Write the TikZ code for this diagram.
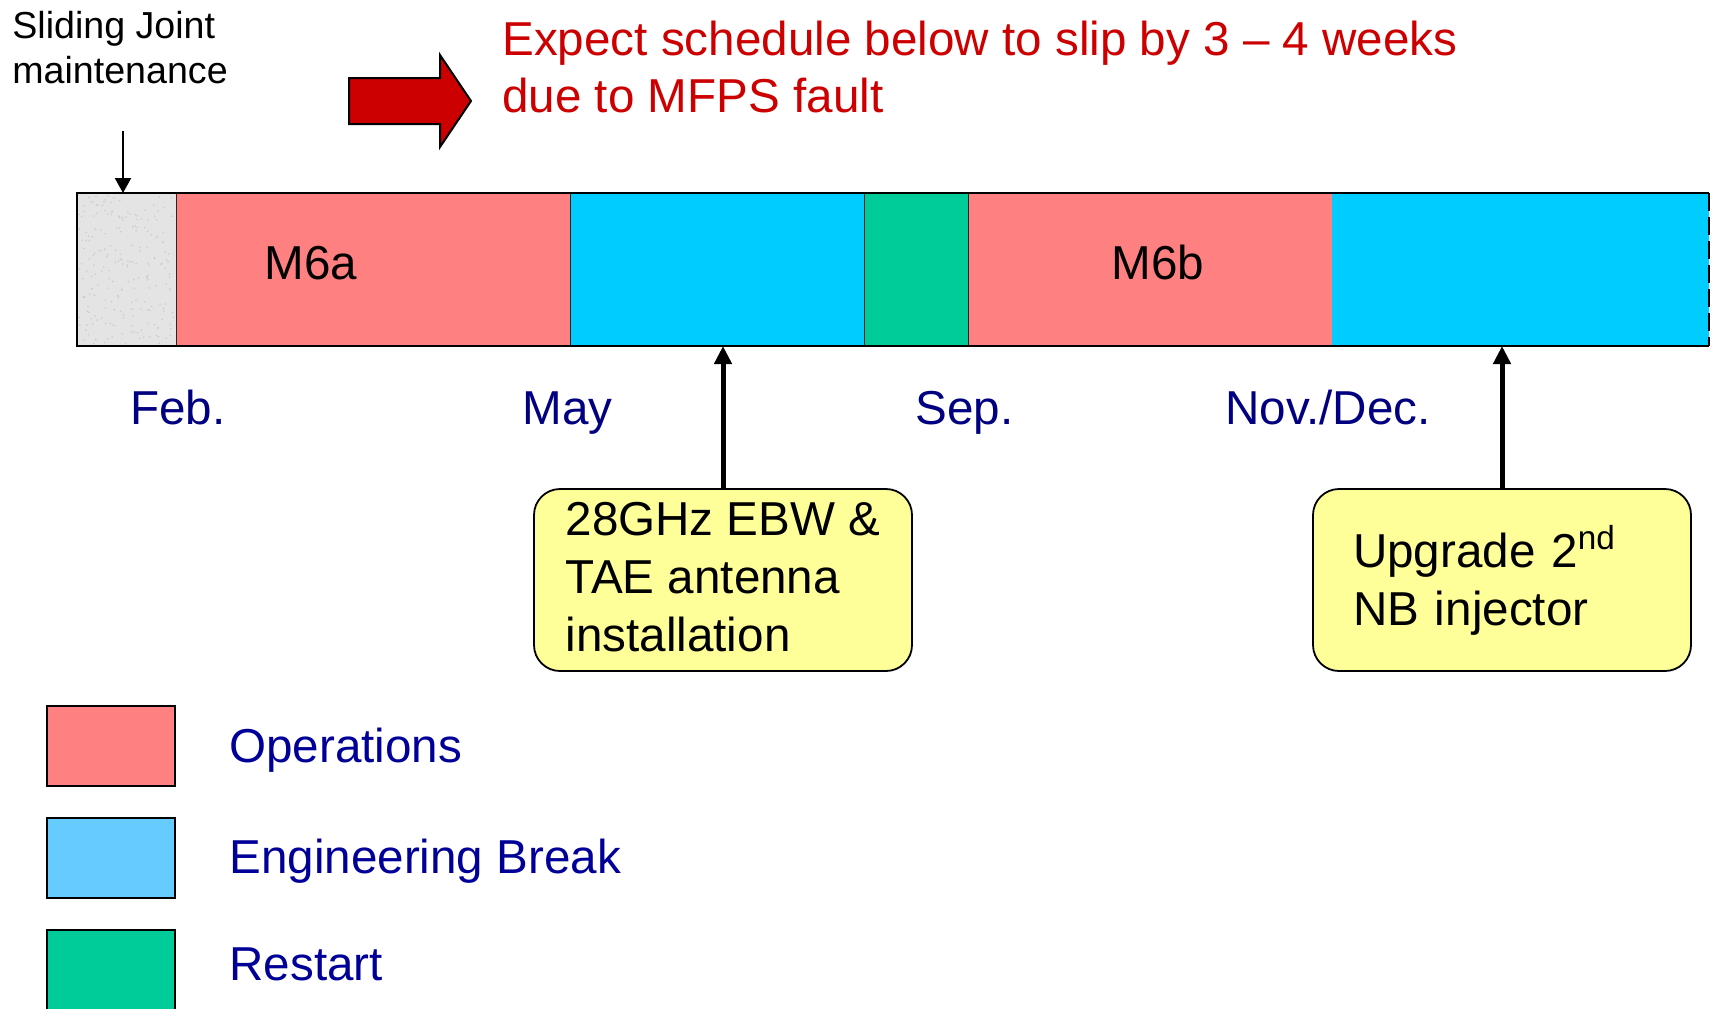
\documentclass[tikz,border=0pt]{standalone}
\usepackage{fontspec}
\setmainfont{Liberation Sans}
\usetikzlibrary{arrows.meta,positioning}
\definecolor{scops}{HTML}{FF8080}
\definecolor{sceng}{HTML}{00CCFF}
\definecolor{scengkey}{HTML}{66CCFF}
\definecolor{scrst}{HTML}{00CC99}
\definecolor{scnote}{HTML}{FFFF99}
\definecolor{scred}{HTML}{CC0000}
\definecolor{scmonth}{HTML}{000080}
\definecolor{sckey}{HTML}{000099}
\definecolor{scjoint}{HTML}{E4E4E4}
\tikzset{
  seg/.style={draw=black!85,line width=0.5pt,minimum height=76.5pt,inner sep=0pt,outer sep=0pt},
  note/.style={draw=black,line width=0.9pt,fill=scnote,rounded corners=13pt,minimum width=189pt,
              minimum height=91pt,align=left,font=\fontsize{23.8}{29}\selectfont},
  keybox/.style={draw=black,line width=1pt,minimum width=64pt,minimum height=40pt,inner sep=0pt,
              outer sep=0pt,anchor=north west},
  keytxt/.style={anchor=base west,inner sep=0pt,text=sckey,font=\fontsize{23.8}{29}\selectfont},
  month/.style={anchor=base west,inner sep=0pt,text=scmonth,font=\fontsize{23.8}{29}\selectfont},
  uparr/.style={-{Triangle[length=9pt,width=8.5pt]},line width=2.5pt},
}

\begin{document}
\begin{tikzpicture}[x=0.5pt,y=-0.5pt,
  big/.style={anchor=base west,inner sep=0pt,font=\fontsize{23.8}{29}\selectfont}]
  \useasboundingbox (0,0) rectangle (1711,1008);

  % ---- headline ----
  \node[anchor=north west,inner sep=0pt,align=left,font=\fontsize{18.8}{22.5}\selectfont]
    (sjtxt) at (12,11) {Sliding Joint\\maintenance};
  \draw[fill=scred,line width=1pt] (349,78) -- (440,78) -- (440,55) -- (471,101) -- (440,147)
    -- (440,124) -- (349,124) -- cycle;
  \node[anchor=north west,inner sep=0pt,align=left,text=scred,font=\fontsize{23.8}{28.5}\selectfont]
    (slip) at (502,21) {Expect schedule below to slip by 3 – 4 weeks\\due to MFPS fault};

  % ---- schedule bar ----
  \node[seg,fill=scjoint,anchor=north west,minimum width=49.5pt] (sj) at (77,193) {};
  \pgfmathsetseed{7}
  \foreach \k in {1,...,220}
    \fill[black!20] ({79+rnd*95},{195+rnd*149}) circle (0.45pt);
  \node[seg,fill=scops,right=0pt of sj,minimum width=197pt] (m6a) {};
  \node[seg,fill=sceng,right=0pt of m6a,minimum width=147pt] (eb1) {};
  \node[seg,fill=scrst,right=0pt of eb1,minimum width=52pt] (rs) {};
  \node[seg,fill=scops,right=0pt of rs,minimum width=182pt] (m6b) {};
  \node[seg,fill=sceng,draw=none,right=0pt of m6b,minimum width=188.5pt] (eb2) {};
  \draw[line width=1pt] (sj.north east) -- (sj.north west) -- (sj.south west) -- (sj.south east);
  \draw[line width=1pt] (sj.north west) -- (eb2.north east);
  \draw[line width=1pt] (sj.south west) -- (eb2.south east);
  \draw[line width=1.2pt,dash pattern=on 9pt off 3pt] (eb2.north east) -- (eb2.south east);
  \node[big] (m6alab) at (264,279) {M6a};
  \node[big] (m6blab) at (1111,279) {M6b};

  \coordinate (sjtop) at (123,131);
  \draw[-{Triangle[length=7.5pt,width=8pt]},line width=1pt] (sjtop) -- (sjtop |- sj.north);

  % ---- months ----
  \node[month] (feb) at (130,424) {Feb.};
  \node[month] (may) at (522,424) {May};
  \node[month] (sep) at (915,424) {Sep.};
  \node[month] (nov) at (1225,424) {Nov./Dec.};

  % ---- notes ----
  \node[note] (ebw) at (723,580) {28GHz EBW \&\\TAE antenna\\installation\rule[-3.3pt]{0pt}{1pt}};
  \node[note,text width=149pt,inner xsep=20pt] (nbi) at (1502,580) {Upgrade 2\textsuperscript{nd}\\NB injector};
  \draw[uparr] (ebw.north) -- (ebw.north |- eb1.south);
  \draw[uparr] (nbi.north) -- (nbi.north |- eb2.south);

  % ---- legend ----
  \node[keybox,fill=scops] (kops) at (47,706) {};
  \node[keybox,fill=scengkey,below=16pt of kops] (keng) {};
  \node[keybox,fill=scrst,below=16pt of keng] (krst) {};
  \node[keytxt] (kopslab) at (229,762) {Operations};
  \node[keytxt] (kenglab) at (229,873) {Engineering Break};
  \node[keytxt] (krstlab) at (229,980) {Restart};
\end{tikzpicture}
\end{document}
